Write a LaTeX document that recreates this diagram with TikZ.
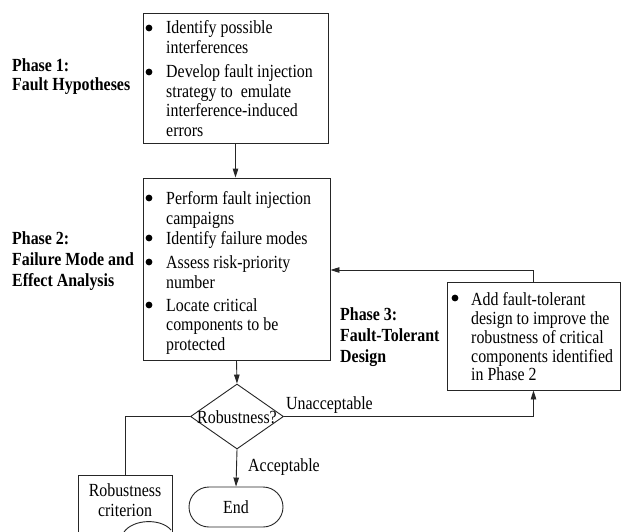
\documentclass[tikz,border=0pt]{standalone}
\usepackage{fontspec}
\setmainfont{Liberation Serif}[FakeStretch=0.86]
\usetikzlibrary{arrows.meta,shapes.geometric}
\begin{document}
\begin{tikzpicture}[x=1pt,y=-1pt,
  txt/.style={anchor=base west,inner sep=0pt,font=\fontsize{18.5}{19.5}\selectfont},
  ctxt/.style={anchor=base,inner sep=0pt,font=\fontsize{18.5}{19.5}\selectfont},
  btxt/.style={anchor=base west,inner sep=0pt,font=\fontsize{18.5}{19.5}\selectfont\bfseries},
  box/.style={draw=black!85,line width=0.9pt,rectangle,inner sep=0pt},
  bul/.style={circle,fill=black,inner sep=0pt,minimum size=6.8pt},
  conn/.style={draw=black!85,line width=0.9pt},
  arr/.style={conn,-{Triangle[length=9pt,width=5.5pt]}}]
\clip (0,0) rectangle (621,531);
\fill[white] (0,0) rectangle (621,531);
% boxes
\node[box,minimum width=185pt,minimum height=130pt] (b1) at (235.5,78) {};
\node[box,minimum width=187pt,minimum height=182pt] (b2) at (236.5,269) {};
\node[box,minimum width=173pt,minimum height=108pt] (b3) at (533.5,336) {};
\node[box,diamond,minimum width=93pt,minimum height=65pt] (dia) at (237,416.5) {};
\node[box,rounded corners=20pt,minimum width=94pt,minimum height=40pt] (end) at (236,507) {};
\node[box,minimum width=94pt,minimum height=80pt] (crit) at (125,515) {};
\coordinate (fbk) at (b2.east |- 0,270);
% phase labels
\node[btxt] (p1a) at (12,71) {Phase 1:};
\node[btxt] (p1b) at (12,90) {Fault Hypotheses};
\node[btxt] (p2a) at (12,244) {Phase 2:};
\node[btxt] (p2b) at (12,265) {Failure Mode and};
\node[btxt] (p2c) at (12,286) {Effect Analysis};
\node[btxt] (p3a) at (340,320) {Phase 3:};
\node[btxt] (p3b) at (340,341) {Fault-Tolerant};
\node[btxt] (p3c) at (340,362) {Design};
% box 1 text
\node[bul] (u11) at (149,28) {};
\node[bul] (u12) at (149,72) {};
\node[txt] (t11) at (166,33.5) {Identify possible};
\node[txt] (t12) at (166,53) {interferences};
\node[txt] (t13) at (166,77.5) {Develop fault injection};
\node[txt] (t14) at (166,97) {strategy to\ \ emulate};
\node[txt] (t15) at (166,116.5) {interference-induced};
\node[txt] (t16) at (166,136) {errors};
% box 2 text
\node[bul] (u21) at (149,198) {};
\node[bul] (u22) at (149,238) {};
\node[bul] (u23) at (149,262) {};
\node[bul] (u24) at (149,305) {};
\node[txt] (t21) at (166,204.5) {Perform fault injection};
\node[txt] (t22) at (166,224) {campaigns};
\node[txt] (t23) at (166,244) {Identify failure modes};
\node[txt] (t24) at (166,268.5) {Assess risk-priority};
\node[txt] (t25) at (166,288) {number};
\node[txt] (t26) at (166,311) {Locate critical};
\node[txt] (t27) at (166,330.5) {components to be};
\node[txt] (t28) at (166,350) {protected};
% box 3 text
\node[bul] (u31) at (455,298) {};
\node[txt] (t31) at (471,305) {Add fault-tolerant};
\node[txt] (t32) at (471,324) {design to improve the};
\node[txt] (t33) at (471,343) {robustness of critical};
\node[txt] (t34) at (471,362) {components identified};
\node[txt] (t35) at (471,380) {in Phase 2};
% other texts
\node[ctxt] (rq) at (dia.center |- 0,423) {Robustness?};
\node[txt] (unacc) at (286,409) {Unacceptable};
\node[txt] (acc) at (248,471) {Acceptable};
\node[ctxt] (endt) at (end.center |- 0,513) {End};
\node[ctxt] (cr1) at (crit.center |- 0,496) {Robustness};
\node[ctxt] (cr2) at (crit.center |- 0,516) {criterion};
\draw[conn] (124,532) .. controls (133,519) and (161,518) .. (171,530);
% connectors
\draw[arr] (b1.south) -- (b1.south |- b2.north);
\draw[arr] (b2.south) -- (dia.north);
\draw[arr] (dia.south) -- (end.north);
\draw[arr] (dia.east) -| (b3.south);
\draw[arr] (b3.north) |- (fbk);
\draw[conn] (dia.west) -| (crit.north);
\end{tikzpicture}
\end{document}
